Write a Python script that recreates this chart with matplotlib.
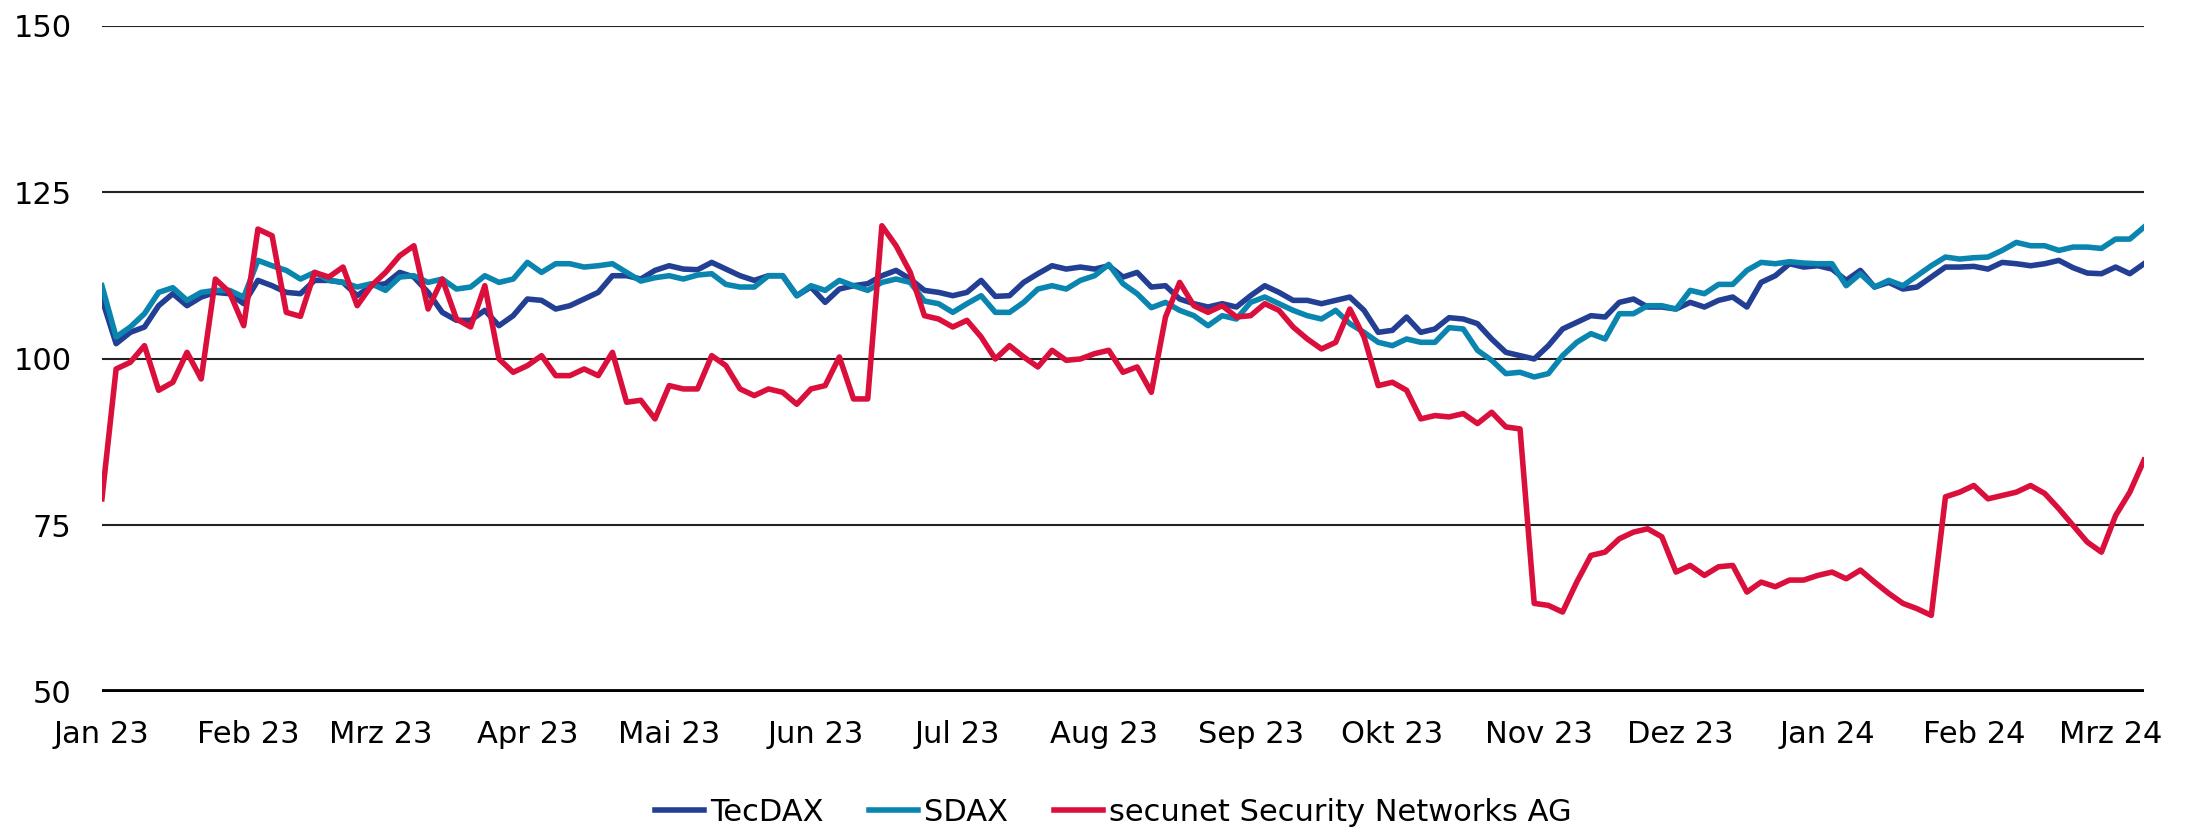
"""Indexed price chart: TecDAX, SDAX and secunet Security Networks AG."""

from __future__ import annotations

import matplotlib

matplotlib.use("Agg")

import matplotlib.pyplot as plt
import pandas as pd


OUTPUT = "out.png"

# sample dates, every third calendar day from 1 Jan 2023
DATES = pd.date_range("2023-01-01", periods=145, freq="3D")

TECDAX = [
    109, 102.3, 104, 104.8, 108, 109.8, 108, 109.3, 110, 109.8, 108.3,
    111.8, 111, 110, 109.8, 111.8, 111.8, 111.5, 109.5, 111, 111.3,
    113, 112.3, 110, 107, 105.8, 105.8, 107.3, 105, 106.5, 109, 108.8,
    107.5, 108, 109, 110, 112.5, 112.5, 112, 113.3, 114, 113.5,
    113.4, 114.5, 113.5, 112.5, 111.8, 112.5, 112.5, 109.5, 110.8, 108.5, 110.5,
    111, 111.3, 112.5, 113.3, 112, 110.3, 110, 109.5, 110, 111.8,
    109.4, 109.5, 111.5, 112.8, 114, 113.5, 113.8, 113.5, 114, 112.3, 113,
    110.8, 111, 109, 108.3, 107.8, 108.3, 107.8, 109.5, 111, 110,
    108.8, 108.8, 108.3, 108.8, 109.3, 107.3, 104, 104.3, 106.3, 104, 104.5,
    106.2, 106, 105.3, 103, 101, 100.5, 100, 102, 104.5, 105.5,
    106.5, 106.3, 108.5, 109, 107.8, 107.8, 107.5, 108.5, 107.8, 108.8, 109.3,
    107.8, 111.5, 112.5, 114.3, 113.8, 114, 113.5, 111.8, 113.3, 110.8,
    111.5, 110.5, 110.8, 112.3, 113.8, 113.8, 113.9, 113.5, 114.5, 114.3,
    114, 114.3, 114.8, 113.7, 112.9, 112.8, 113.8, 112.8, 114.3,
]

SDAX = [
    111, 103.3, 104.8, 106.8, 110, 110.7, 108.8, 110, 110.3, 110.3, 109.3,
    114.8, 114, 113.3, 112, 113, 111.8, 111.5, 110.8, 111.3, 110.3,
    112.3, 112.5, 111.5, 112, 110.5, 110.8, 112.5, 111.5, 112, 114.5, 113,
    114.3, 114.3, 113.8, 114, 114.3, 113, 111.7, 112.2, 112.5, 112,
    112.6, 112.8, 111.2, 110.8, 110.8, 112.5, 112.5, 109.5, 111, 110.3, 111.8,
    111, 110.3, 111.5, 112, 111.5, 108.7, 108.3, 107, 108.3, 109.5,
    107, 107, 108.5, 110.5, 111, 110.5, 111.8, 112.5, 114.2, 111.3, 109.8,
    107.7, 108.5, 107.3, 106.5, 105, 106.5, 106, 108.5, 109.3, 108.3,
    107.3, 106.5, 106, 107.3, 105.3, 104, 102.5, 102, 103, 102.5, 102.5,
    104.7, 104.5, 101.3, 99.8, 97.8, 98, 97.3, 97.8, 100.5, 102.5,
    103.8, 103, 106.8, 106.8, 108, 108, 107.5, 110.3, 109.8, 111.2, 111.2,
    113.3, 114.5, 114.3, 114.6, 114.4, 114.3, 114.3, 111, 112.8, 110.8,
    111.8, 111, 112.5, 114, 115.3, 115, 115.2, 115.3, 116.3, 117.5,
    117, 117, 116.3, 116.8, 116.8, 116.6, 118, 118, 119.8,
]

SECUNET = [
    79, 98.5, 99.5, 102, 95.3, 96.5, 101, 97, 112, 110, 105,
    119.5, 118.5, 107, 106.4, 113, 112.3, 113.8, 108, 111, 113,
    115.5, 117, 107.5, 112, 106, 104.8, 111, 100, 98, 99, 100.5,
    97.5, 97.5, 98.5, 97.5, 101, 93.5, 93.8, 91, 96, 95.5,
    95.5, 100.5, 99, 95.5, 94.5, 95.5, 95, 93.2, 95.5, 96, 100.3,
    94, 94, 120, 117, 113, 106.5, 106, 104.8, 105.8, 103.3,
    100, 102, 100.3, 98.8, 101.3, 99.8, 100, 100.8, 101.3, 98, 98.8,
    95, 106.3, 111.5, 108, 107, 108, 106.3, 106.5, 108.3, 107.3,
    104.8, 103, 101.5, 102.5, 107.5, 103.3, 96, 96.5, 95.3, 91, 91.5,
    91.3, 91.8, 90.3, 92, 89.8, 89.5, 63.3, 63, 62, 66.5,
    70.5, 71, 73, 74, 74.5, 73.3, 68, 69, 67.5, 68.8, 69,
    65, 66.5, 65.8, 66.8, 66.8, 67.5, 68, 67, 68.3, 66.5,
    64.8, 63.3, 62.5, 61.5, 79.3, 80, 81, 79, 79.5, 80,
    81, 79.8, 77.5, 75, 72.5, 71, 76.5, 80, 84.8,
]

SERIES_NAMES = ["TecDAX", "SDAX", "secunet Security Networks AG"]
SERIES_COLORS = ["#233f94", "#0a85b0", "#da0f3c"]

MONTH_LABELS = [
    "Jan 23", "Feb 23", "Mrz 23", "Apr 23", "Mai 23", "Jun 23", "Jul 23", "Aug 23",
    "Sep 23", "Okt 23", "Nov 23", "Dez 23", "Jan 24", "Feb 24", "Mrz 24",
]
Y_TICKS = [50, 75, 100, 125, 150]


def plot_chart(path: str) -> None:
    plt.rcParams["font.family"] = ["DejaVu Sans"]
    fig = plt.figure(figsize=(21.92, 8.35), dpi=100)
    ax = fig.add_axes([0.0465, 0.1713, 0.9316, 0.7976])

    for y in Y_TICKS[1:]:
        ax.axhline(y, color="#222222", linewidth=1.5, zorder=1)
    ax.axhline(Y_TICKS[0], color="black", linewidth=4.2, zorder=4)

    for name, values, color in zip(SERIES_NAMES, [TECDAX, SDAX, SECUNET], SERIES_COLORS):
        ax.plot(DATES, values, color=color, linewidth=4.0, label=name, zorder=3)

    ax.set_ylim(Y_TICKS[0], Y_TICKS[-1])
    ax.set_xlim(DATES[0], DATES[-1])
    ax.set_yticks(Y_TICKS)
    ax.set_yticklabels([str(y) for y in Y_TICKS])

    month_starts = pd.date_range("2023-01-01", periods=len(MONTH_LABELS), freq="MS")
    ax.set_xticks(month_starts)
    ax.set_xticklabels(MONTH_LABELS)

    ax.tick_params(axis="both", length=0, labelsize=22, colors="black")
    ax.tick_params(axis="y", pad=22)
    ax.tick_params(axis="x", pad=20)
    for spine in ax.spines.values():
        spine.set_visible(False)

    fig.legend(
        loc="center",
        bbox_to_anchor=(0.508, 0.027),
        ncol=3,
        frameon=False,
        fontsize=22,
        handlelength=1.6,
        handletextpad=0.2,
        columnspacing=1.5,
    )

    fig.savefig(path, dpi=100)
    plt.close(fig)


def main() -> None:
    plot_chart(OUTPUT)


if __name__ == "__main__":
    main()
